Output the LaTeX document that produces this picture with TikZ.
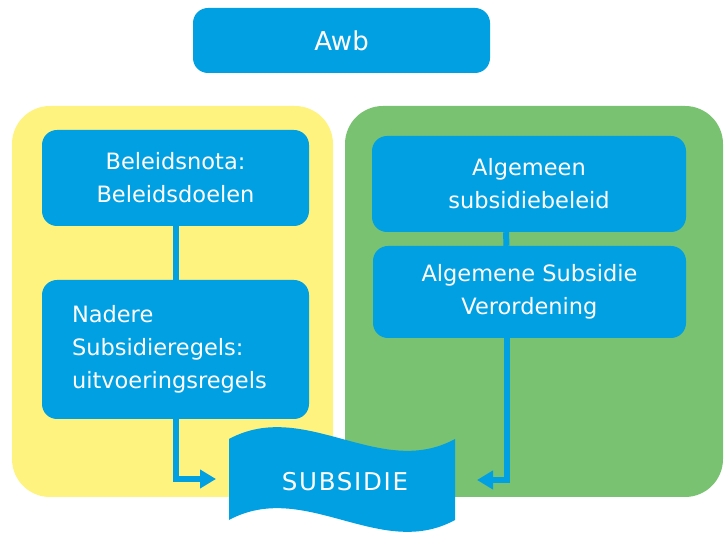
\documentclass[tikz,border=0pt]{standalone}
\usepackage{fontspec}
\setmainfont{DejaVu Sans}
\usepackage{xcolor}
\usepackage{tikz}
\usetikzlibrary{arrows.meta,calc,positioning}
\definecolor{awbblue}{RGB}{0,160,227}
\definecolor{panelyellow}{RGB}{254,243,127}
\definecolor{panelgreen}{RGB}{121,194,113}
\tikzset{
    blok/.style={rectangle, rounded corners=15pt, fill=awbblue, draw=none, text=white,
      inner sep=0pt, align=center, font=\fontsize{22.5}{33}\selectfont},
    paneel/.style={rounded corners=38pt, draw=none},
    lijn/.style={draw=awbblue, line width=6pt},
    pijl/.style={lijn, -{Triangle[width=18pt,length=16pt]}}}

\begin{document}
\begin{tikzpicture}[x=1pt,y=-1pt]
\useasboundingbox (0,0) rectangle (724,534);
% panelen
\fill[paneel, panelyellow] (12,106) rectangle (333,497);
\fill[paneel, panelgreen] (345,106) rectangle (723,497);

% blokken
\node[blok, minimum width=297pt, minimum height=65pt, font=\fontsize{26}{30}\selectfont] (awb) at (341.5,40.5) {Awb};
\node[blok, minimum width=267pt, minimum height=96pt] (beleid) at (175.5,178) {Beleidsnota:\\Beleidsdoelen};
\node[blok, minimum height=139pt, text width=207pt, inner xsep=30pt, align=left] (nadere) at (175.5,349.5) {Nadere\\Subsidieregels:\\uitvoeringsregels};
\node[blok, minimum width=314pt, minimum height=96pt] (algemeen) at (529,184) {Algemeen\\subsidiebeleid};
\node[blok, minimum width=313pt, minimum height=92pt] (asv) at (529.5,292) {Algemene Subsidie\\Verordening};

% subsidie (golf)
\fill[awbblue] (229,439) .. controls (305,398) and (380,480) .. (455,439)
  -- (455,520) .. controls (380,561) and (305,479) .. (229,520) -- cycle;
\node[text=white, font=\fontsize{24.5}{30}\selectfont\addfontfeature{LetterSpace=7}] (subsidie) at (345,482) {SUBSIDIE};

% verbindingen
\coordinate (Tl) at (216,479);
\coordinate (Tr) at (477,480);
\draw[lijn] (beleid) -- (nadere);
\draw[lijn] ([xshift=-23pt]algemeen.south) -- ([xshift=-23pt]asv.north);
\draw[pijl] (nadere.south) |- (Tl);
\draw[pijl] ([xshift=-23pt]asv.south) |- (Tr);
\end{tikzpicture}
\end{document}
